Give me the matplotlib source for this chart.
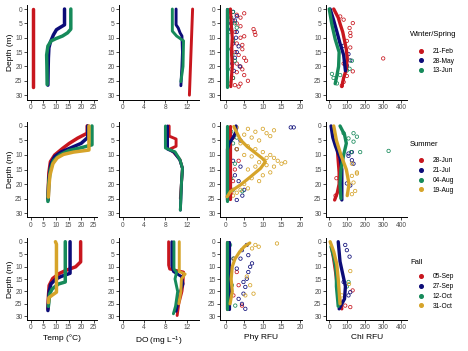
import numpy as np
import matplotlib
matplotlib.use('Agg')
import matplotlib.pyplot as plt
from matplotlib.lines import Line2D

plt.rcParams['font.family'] = ['Liberation Sans', 'DejaVu Sans']
plt.rcParams['mathtext.default'] = 'regular'

# colours per sampling date (same order in every season)
red, navy, green, gold = '#C8161E', '#0C0C78', '#168A5A', '#D6A42A'

# ---------------- Winter/Spring ----------------  profiles are [depth, value]
ws_dates = ['21-Feb', '28-May', '13-Jun']
feb21_temp = [[0, 0.8], [27, 0.8]]
may28_temp = [[0, 13.4], [5.5, 13.4], [6.5, 11.5], [7.2, 10.2], [9, 9], [11.5, 7.8], [13.5, 7.2], [17, 7], [21, 6.9], [26.5, 6.8]]
jun13_temp = [[0, 15.9], [7, 15.9], [8.3, 14.6], [9.4, 12.6], [10.3, 10], [11.1, 8.1], [12.9, 6.8], [16, 6.3], [20, 6.4], [26.3, 6.5]]
feb21_do = [[0, 13.1], [15, 12.8], [30, 12.5]]
may28_do = [[0, 10.0], [5.5, 10.0], [6.6, 10.4], [8.3, 10.75], [9.4, 11.1], [15, 11.2], [20, 11.1], [26.7, 10.9]]
jun13_do = [[0, 9.3], [7.7, 9.3], [9.4, 10.1], [11.1, 11.4], [20, 11.3], [25.3, 10.9]]
feb21_phy = [[0, 1.3], [5, 1.5], [10, 1.8], [15, 1.6], [20, 1.8], [25, 1.5], [27, 1.4]]
may28_phy = [[0, 0.4], [21, 0.4]]
jun13_phy = [[0, 0.3], [27, 0.3]]
feb21_phy_pts = [[1.5, 5], [3, 4], [5, 3], [7, 7.5], [8, 7.8], [9, 8], [10, 4], [12, 3], [14, 4.5], [16, 3.5], [17, 5],
                 [18, 5.5], [20, 4], [22, 3], [23, 5], [25, 6], [26, 4], [27, 3.5], [26.5, 2.5], [24, 2], [21, 4.5],
                 [19, 3], [15, 2.5], [11, 2], [8, 2.5], [6, 4], [2, 3], [4, 2], [9.5, 5], [12.5, 4.5]]
may28_phy_pts = [[1, 2], [2.5, 3], [4, 2.5], [7, 1.5], [10, 2.8], [13, 3.5], [15, 3], [17, 2.5], [20, 3.8], [21.5, 2.2],
                 [19, 1.8], [12, 2], [5, 1.5], [8, 3]]
jun13_phy_pts = [[1, 2], [3, 1.5], [5, 2.5], [8, 1], [11, 2], [14, 1.5], [18, 2.5], [21, 1.5], [24, 2], [26, 1],
                 [6.5, 3], [16, 1.8]]
feb21_chl = [[0, 25], [3, 50], [5.5, 62], [8, 75], [11, 85], [14, 95], [17, 100], [21, 95], [24, 80], [27, 70]]
may28_chl = [[0, 5], [4, 25], [8, 43], [12, 60], [16, 80], [21.5, 90]]
jun13_chl = [[0, 0], [5.5, 15], [10.5, 33], [15, 55], [20, 52], [24, 40], [26, 33]]
feb21_chl_pts = [[4.9, 131], [6.6, 113], [8.3, 117], [9.4, 118], [11.1, 98], [13.4, 117], [17.2, 300], [21.7, 131],
                 [23.3, 98], [25.4, 80], [26.7, 70], [19, 80], [2.6, 61], [3.7, 80]]
may28_chl_pts = [[15.7, 107], [17.9, 117], [19.7, 98], [12.8, 80]]
jun13_chl_pts = [[18, 126], [20.8, 113], [21.4, 98], [24, 24], [25.9, 43], [22.6, 15], [23, 61]]

# ---------------- Summer ----------------
su_dates = ['28-Jun', '21-Jul', '04-Aug', '19-Aug']
jun28_temp = [[0, 22.4], [2.5, 22.4], [4.2, 18.6], [6, 15.3], [7.7, 12.7], [10, 9.5], [12.3, 7.8], [16, 7.2], [20, 7], [25, 6.8]]
jul21_temp = [[0, 22.6], [4, 22.6], [6, 20], [7.5, 16], [9, 12], [10.5, 9.5], [13, 8], [18, 7.2], [25.5, 6.9]]
aug04_temp = [[0, 24.3], [6.5, 24.3], [7.5, 20], [8.5, 15], [10, 11.5], [12, 9], [15, 7.8], [20, 7.1], [26, 6.8]]
aug19_temp = [[0, 23.1], [8.3, 23.1], [9, 17], [9.8, 13], [11, 10.5], [13, 8.8], [17, 7.6], [21, 7.2], [24.5, 7]]
jun28_do = [[0, 8.7], [3.5, 8.7], [4.5, 10], [7, 10], [8, 8.8], [9, 9.5], [11.5, 10.7], [14.6, 11.2], [20, 11], [25, 10.8]]
jul21_do = [[0, 8.4], [8, 8.4], [9, 9.6], [11.7, 10.7], [14.6, 11.2], [20, 11.0], [25, 10.9], [29, 10.8]]
aug04_do = [[0, 8.0], [7.6, 8.0], [8.9, 9.8], [11.7, 10.75], [14.6, 11.2], [20, 11.0], [25, 10.9], [29, 10.8]]
aug19_do = []
jun28_phy = [[0, 1.3], [25, 1.3]]
jul21_phy = [[0, 2.8], [2, 2.8], [4, 2], [6, 1], [8, 0.5], [15, 0.5], [25.5, 0.5]]
aug04_phy = [[0, 0.3], [26, 0.3]]
aug19_phy = [[0.2, 2.2], [4.8, 4], [7.1, 5.8], [8.9, 7.6], [11.1, 9.8], [12.3, 10.7], [14.6, 9.4], [17.5, 6.7],
             [20.3, 4], [22.6, 1.3], [24.4, 0.4]]
jun28_phy_pts = [[4, 2], [8, 3], [15, 2.5], [12, 3.5], [19, 2], [23, 1.5]]
jul21_phy_pts = [[0.5, 17.5], [0.5, 18.3], [5, 4], [22, 5], [24, 4.5], [25.5, 3], [12, 2], [8, 3], [17, 2.5], [14, 4], [19, 3.5]]
aug04_phy_pts = [[2, 1.5], [6, 2], [10, 1], [13, 2.5], [18, 1.5], [22, 2], [25, 1], [22.5, 4.5], [4, 3]]
aug19_phy_pts = [[0.5, 3], [1, 6], [1, 10], [2.5, 11], [3.5, 12], [2, 8], [4, 7], [3, 5], [5, 9], [6, 4], [7, 6], [8, 8],
                 [9, 10], [10, 12], [12, 14], [13, 15], [14, 13], [11, 11], [12.5, 9], [14, 8], [16, 12], [17, 10],
                 [15, 6], [18, 7], [19, 9], [20, 5], [22, 4], [23, 3], [21.5, 6], [24, 2], [13.5, 11], [11, 13],
                 [10, 5], [8, 3], [10.5, 7], [12.5, 16], [1.5, 13]]
jun28_chl = [[8, 45], [12, 50], [16, 55], [20, 55], [23, 45], [25.5, 30]]
jul21_chl = [[0, 10], [4, 20], [7, 35], [11, 60], [15, 70], [20, 70], [25.5, 70]]
aug04_chl = [[0, 60], [3, 85], [6, 95], [10, 80], [15, 65], [20, 60], [25, 65]]
aug19_chl = [[0, 25], [5, 40], [10, 65], [15, 95], [20, 110], [24, 100]]
jun28_chl_pts = [[14, 60], [18, 40], [24, 35]]
jul21_chl_pts = [[9, 126], [9.5, 107], [13, 135], [11.8, 126], [10.3, 107], [19.8, 98], [20.5, 117]]
aug04_chl_pts = [[2.5, 135], [3.7, 154], [5.4, 135], [4.3, 107], [9, 122], [8.6, 330], [9, 172], [2.5, 80]]
aug19_chl_pts = [[13, 126], [16, 154], [17.2, 126], [19.5, 135], [22.4, 144], [23.5, 126], [16.4, 154]]

# ---------------- Fall ----------------
fa_dates = ['05-Sep', '27-Sep', '12-Oct', '31-Oct']
sep05_temp = [[0, 19.8], [8.1, 19.8], [10.1, 17.8], [11.5, 14], [12.8, 11.3], [14.8, 8.7], [17.6, 7.3], [22, 7], [27, 6.8]]
sep27_temp = [[0, 15.6], [12.7, 15.6], [14, 12], [15, 10], [17, 8], [20, 7.3], [27.7, 6.8]]
oct12_temp = [[0, 13.7], [16.2, 13.7], [17, 11], [19, 8.5], [21, 7.5], [26, 7]]
oct31_temp = [[0, 9.8], [1, 10.2], [20.3, 10.2], [21.5, 8.5], [22.5, 7.2], [24.5, 7]]
sep05_do = [[0, 8.6], [9.4, 8.6], [11, 8.8], [12.2, 11.4], [16.8, 11.3], [20, 11.1], [25, 10.5], [29.7, 10.2]]
sep27_do = [[0, 9.2], [9.5, 9.2], [12, 9.5], [14, 11.0], [17, 11.3], [20, 10.8], [25, 10.3], [28, 10.0]]
oct12_do = [[0, 9.6], [11, 9.6], [12.2, 10.1], [15, 9.8], [20, 10.3], [26, 9.9], [29, 9.5]]
oct31_do = [[0, 10.6], [12, 10.6], [13, 11.7], [15, 11], [20, 10.9], [25, 10.5]]
sep05_phy = [[0, 0.5], [27, 0.5]]
sep27_phy = [[0, 1.0], [27, 1.0]]
oct12_phy = [[0, 0.3], [27, 0.3]]
oct31_phy = [[0.5, 6.5], [2, 5], [4, 3.8], [7, 2.5], [10, 1.8], [15, 1.5], [20, 1.8], [25, 1.2]]
sep05_phy_pts = [[12.2, 3], [17.5, 3.5], [6.8, 2.2], [21.6, 2.1], [25.7, 4.4]]
sep27_phy_pts = [[1.3, 5.7], [5.4, 6.1], [10.1, 6.6], [8.7, 7.1], [12.2, 6.1], [14.9, 5.7], [18.2, 5.3], [20.9, 4.8],
                 [25, 4.4], [27, 5.3], [6.8, 4], [3.4, 4.4], [16.2, 4.8], [23, 3.5], [10.8, 3]]
oct12_phy_pts = [[6.8, 2.1], [17.5, 1.7], [25.7, 2.6], [1.3, 1.2]]
oct31_phy_pts = [[0.7, 13.8], [2, 8.9], [1.3, 8], [2.7, 7.1], [17.5, 6.6], [20.9, 7.5], [14, 5.7], [21.6, 5.3]]
sep05_chl = [[3, 15], [7, 25], [12, 35], [18, 45], [24, 60], [27, 70]]
sep27_chl = [[0, 50], [4, 55], [8, 60], [13, 75], [18, 90], [23, 85], [27, 55]]
oct12_chl = [[2, 10], [6, 25], [10, 35], [14, 40], [18, 40], [22, 45], [26, 50]]
oct31_chl = [[0, 5], [4, 25], [9, 42], [15, 50], [20, 55], [25, 60]]
sep05_chl_pts = [[19.6, 130], [26.3, 117], [25.7, 89]]
sep27_chl_pts = [[3.4, 98], [6, 113], [1.3, 89], [20.3, 117], [21.6, 107], [16.2, 80]]
oct12_chl_pts = [[16.2, 107], [18, 98]]
oct31_chl_pts = [[11.8, 117], [17, 110], [21.6, 70]]

rows = [
    ('Winter/Spring', ws_dates, [red, navy, green],
     [feb21_temp, may28_temp, jun13_temp], [feb21_do, may28_do, jun13_do],
     [feb21_phy, may28_phy, jun13_phy], [feb21_phy_pts, may28_phy_pts, jun13_phy_pts],
     [feb21_chl, may28_chl, jun13_chl], [feb21_chl_pts, may28_chl_pts, jun13_chl_pts]),
    ('Summer', su_dates, [red, navy, green, gold],
     [jun28_temp, jul21_temp, aug04_temp, aug19_temp], [jun28_do, jul21_do, aug04_do, aug19_do],
     [jun28_phy, jul21_phy, aug04_phy, aug19_phy], [jun28_phy_pts, jul21_phy_pts, aug04_phy_pts, aug19_phy_pts],
     [jun28_chl, jul21_chl, aug04_chl, aug19_chl], [jun28_chl_pts, jul21_chl_pts, aug04_chl_pts, aug19_chl_pts]),
    ('Fall', fa_dates, [red, navy, green, gold],
     [sep05_temp, sep27_temp, oct12_temp, oct31_temp], [sep05_do, sep27_do, oct12_do, oct31_do],
     [sep05_phy, sep27_phy, oct12_phy, oct31_phy], [sep05_phy_pts, sep27_phy_pts, oct12_phy_pts, oct31_phy_pts],
     [sep05_chl, sep27_chl, oct12_chl, oct31_chl], [sep05_chl_pts, sep27_chl_pts, oct12_chl_pts, oct31_chl_pts]),
]

xlabels = ['Temp (\u00b0C)', 'DO (mg L$^{-1}$)', 'Phy RFU', 'Chl RFU']
xticks = [[0, 5, 10, 15, 20, 25], [0, 4, 8, 12], [0, 5, 10, 15, 20], [0, 100, 200, 300, 400]]
xlims = [(-1.5, 26.3), (-0.65, 14.3), (-1.5, 20.6), (-18, 434)]

# layout in pixels (figure is 468 x 351)
W, H = 468, 351
cols_px = [(27, 97), (119.3, 199), (220, 302.3), (326, 407.3)]
rows_px = [(4.7, 99.5), (121.6, 217.4), (238, 320)]
title_y = [35, 144, 263]
entries_y = [61, 175.5, 291.5]

fig = plt.figure(figsize=(4.68, 3.51), dpi=100)


def prof(ax, data, color, lw):
    if len(data) == 0:
        return
    data = np.asarray(data)
    ax.plot(data[:, 1], data[:, 0], color=color, lw=lw, solid_capstyle='round', solid_joinstyle='round')


def pts(ax, data, color):
    data = np.asarray(data)
    ax.scatter(data[:, 1], data[:, 0], s=6, facecolors='none', edgecolors=color, linewidths=0.55)


for r, (season, dates, colors, temp, do, phy, phy_pts, chl, chl_pts) in enumerate(rows):
    top, bot = rows_px[r]
    axes = []
    for c in range(4):
        left, right = cols_px[c]
        ax = fig.add_axes([left / W, 1 - bot / H, (right - left) / W, (bot - top) / H])
        axes.append(ax)
    for i, col in enumerate(colors):
        prof(axes[0], temp[i], col, 2.5)
        prof(axes[1], do[i], col, 2.1)
        pts(axes[2], phy_pts[i], col)
        prof(axes[2], phy[i], col, 2.3)
        pts(axes[3], chl_pts[i], col)
        prof(axes[3], chl[i], col, 2.4)

    for c, ax in enumerate(axes):
        ax.set_xlim(xlims[c])
        ax.set_ylim(31.5, -1.5)
        ax.set_xticks(xticks[c])
        ax.set_yticks([0, 5, 10, 15, 20, 25, 30])
        for s in ['top', 'right']:
            ax.spines[s].set_visible(False)
        for s in ['left', 'bottom']:
            ax.spines[s].set_linewidth(0.7)
        ax.tick_params(labelsize=4.8, labelcolor='#4D4D4D', length=2, width=0.5, pad=1.2)
        if c == 0:
            ax.set_ylabel('Depth (m)', fontsize=6, labelpad=1)
        if r == 2:
            ax.set_xlabel(xlabels[c], fontsize=6, labelpad=2)

    # legend: title as text, keys via fig.legend
    fig.text(410 / W, 1 - title_y[r] / H, season, fontsize=5.5, va='center', ha='left')
    handles = [Line2D([], [], ls='', marker='o', ms=2.6, color=col) for col in colors]
    fig.legend(handles, dates, loc='center left',
               bbox_to_anchor=(410 / W, 1 - entries_y[r] / H), frameon=False,
               fontsize=4.8, handlelength=3.2, handletextpad=0.25,
               labelspacing=0.4, borderpad=0, borderaxespad=0)

fig.savefig('out.png', dpi=100)
